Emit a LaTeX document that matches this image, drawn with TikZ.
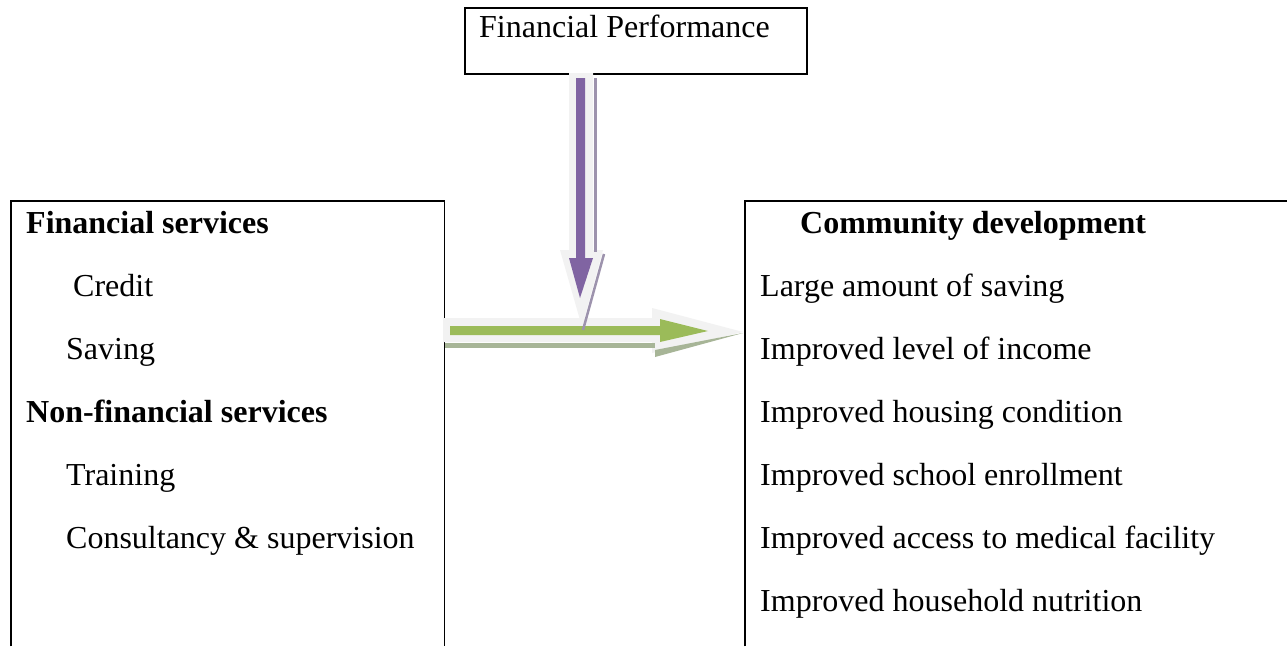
\documentclass[tikz,border=0pt]{standalone}
\usepackage{fontspec}
\setmainfont{Liberation Serif}
\definecolor{purp}{HTML}{8064A2}
\definecolor{grn}{HTML}{9BBB59}
\definecolor{lite}{HTML}{F2F2F2}
\definecolor{pshadow}{HTML}{9D93AD}
\definecolor{gshadow}{HTML}{A7B597}
\tikzset{
  txt/.style={anchor=base west, inner sep=0pt, font=\fontsize{32}{38}\selectfont},
  btxt/.style={txt, font=\fontsize{32}{38}\selectfont\bfseries},
  frame/.style={draw=black, line width=1.8pt},
  area/.style={draw=none, inner sep=0pt, anchor=north west}
}
\begin{document}
\begin{tikzpicture}[x=1pt,y=-1pt]
\useasboundingbox (0,0) rectangle (1287,646);
\fill[white] (0,0) rectangle (1287,646);
% boxes
\node[area, minimum width=342pt, minimum height=66pt, draw=black, line width=1.5pt] (top) at (464,7) {};
\node[area, minimum width=433pt, minimum height=445pt] (left) at (11,201) {};
\node[area, minimum width=545pt, minimum height=445pt] (right) at (745,201) {};
\draw[frame] (left.south west) -- (left.north west) -- (left.north east) -- (left.south east);
\draw[frame] (right.south west) -- (right.north west) -- (right.north east);
% texts
\node[txt] (tp) at (479,37) {Financial Performance};
\node[btxt] (l1) at (26,233) {Financial services};
\node[txt] (l2) at (73,296) {Credit};
\node[txt] (l3) at (66,359) {Saving};
\node[btxt] (l4) at (26,422) {Non-financial services};
\node[txt] (l5) at (66,485) {Training};
\node[txt] (l6) at (66,548) {Consultancy \& supervision};
\node[btxt] (r1) at (800,233) {Community development};
\node[txt] (r2) at (760,296) {Large amount of saving};
\node[txt] (r3) at (760,359) {Improved level of income};
\node[txt] (r4) at (760,422) {Improved housing condition};
\node[txt] (r5) at (760,485) {Improved school enrollment};
\node[txt] (r6) at (760,548) {Improved access to medical facility};
\node[txt] (r7) at (760,611) {Improved household nutrition};
% vertical arrow (Financial Performance -> junction)
\fill[lite] (569,73) -- (593,73) -- (593,250) -- (603,250) -- (582,327) -- (560,250) -- (569,250) -- cycle;
\fill[pshadow] (594,78) rectangle (597,252);
\fill[purp] (576,78) -- (585,78) -- (585,258) -- (593,258) -- (580,298) -- (569,258) -- (576,258) -- cycle;
% horizontal arrow (left box -> right box)
\fill[lite] (443,318) -- (652,318) -- (652,308) -- (743,332) -- (652,353) -- (652,342) -- (443,342) -- cycle;
\fill[gshadow] (445,343) rectangle (655,348);
\fill[gshadow] (655,350) -- (743,333) -- (655,357) -- cycle;
\fill[grn] (450,326) -- (660,326) -- (660,319) -- (708,331) -- (660,342) -- (660,335) -- (450,335) -- cycle;
\draw[pshadow, line width=2.5pt] (604,254) -- (583,330);
\end{tikzpicture}
\end{document}
